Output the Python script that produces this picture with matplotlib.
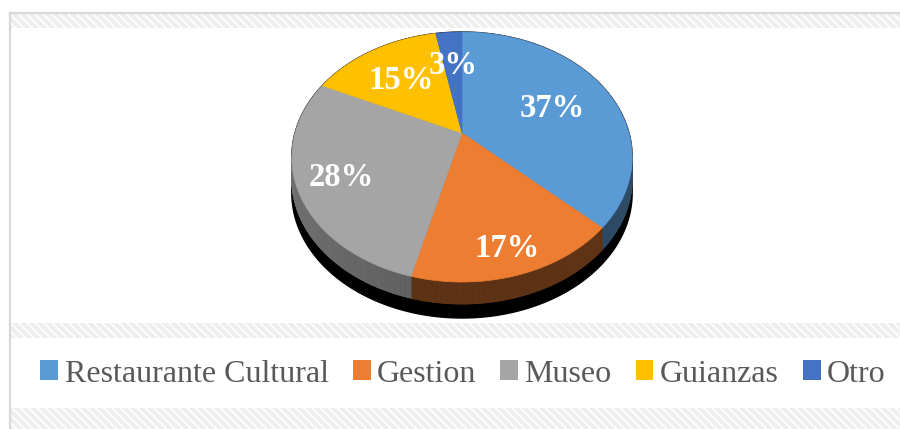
import numpy as np
import matplotlib
matplotlib.use("Agg")
import matplotlib.pyplot as plt
from matplotlib.patches import Polygon, Rectangle, Patch
from matplotlib.collections import PolyCollection

# datos del grafico
categorias = ["Restaurante Cultural", "Gestion", "Museo", "Guianzas", "Otro"]
valores = [37, 17, 28, 15, 3]
colores = ["#5b9bd5", "#ed7d31", "#a5a5a5", "#ffc000", "#4472c4"]
colores_lado = ["#2e4b66", "#5e3316", "#5c5c5c", "#7a5c00", "#213a63"]
radio_etiqueta = [0.62, 0.82, 0.75, 0.65, 0.67]

plt.rcParams["hatch.linewidth"] = 3

fig = plt.figure(figsize=(9, 4.29), dpi=100)
ax = fig.add_axes([0, 0, 1, 1])
ax.set_xlim(0, 900)
ax.set_ylim(429, 0)
ax.axis("off")

# fondo: bandas rayadas y marco
for y0, y1 in [(14, 28), (323, 338), (408, 429)]:
    ax.add_patch(Rectangle((11, y0), 889, y1 - y0, facecolor="white",
                           edgecolor="#eeeeee", hatch="\\\\\\\\", linewidth=0))
ax.plot([10, 900], [13, 13], color="#d9d9d9", lw=1.6)
ax.plot([10, 10], [13, 429], color="#d9d9d9", lw=1.6)

# geometria de la torta en perspectiva
cx, cy = 462, 133
sx, sy = 167, 120.4
k = 0.192
prof = 22
sombra = 14


def proj(u, v, dy=0):
    d = 1 - k * v
    return np.column_stack([cx + sx * u / d, cy + sy * v / d + dy])


def arco(t0, t1, n=200, dy=0):
    t = np.linspace(t0, t1, n)
    return proj(np.cos(t), -np.sin(t), dy)


fr = np.array(valores) / sum(valores)
bordes = np.radians(90 - 360 * np.concatenate([[0], np.cumsum(fr)]))

# sombra negra
arriba = arco(-np.arcsin(k), np.pi + np.arcsin(k), 300)
abajo = arco(np.pi + np.arcsin(k), 2 * np.pi - np.arcsin(k), 300, prof + sombra)
ax.add_patch(Polygon(np.vstack([arriba, abajo]), closed=True,
                     facecolor="black", edgecolor="black", lw=1))

# lados
polys, cols = [], []
for i in range(len(valores)):
    t = np.linspace(bordes[i], bordes[i + 1], 200)
    v = -np.sin(t)
    top = proj(np.cos(t), v)
    bot = proj(np.cos(t), v, prof)
    base = np.array(matplotlib.colors.to_rgb(colores_lado[i]))
    for j in range(len(t) - 1):
        if v[j] >= k and v[j + 1] >= k:
            polys.append([top[j], top[j + 1], bot[j + 1], bot[j]])
            xn = (top[j, 0] - (cx - sx)) / (2 * sx)
            f = 1.2 - 0.4 * xn if i == 2 else 1.0
            cols.append(np.clip(base * f, 0, 1))
ax.add_collection(PolyCollection(polys, facecolors=cols, edgecolors=cols, linewidths=0.6))

# caras superiores
for i in range(len(valores)):
    pts = np.vstack([[cx, cy], arco(bordes[i], bordes[i + 1])])
    ax.add_patch(Polygon(pts, closed=True, facecolor=colores[i],
                         edgecolor=colores[i], lw=0.5))

# etiquetas
for i in range(len(valores)):
    tm = (bordes[i] + bordes[i + 1]) / 2
    r = radio_etiqueta[i]
    p = proj(np.array([r * np.cos(tm)]), np.array([-r * np.sin(tm)]))[0]
    ax.text(p[0], p[1] + 4, f"{valores[i]}%", ha="center", va="center",
            color="white", fontsize=23.5, fontweight="bold", family="Liberation Serif")

# leyenda
handles = [Patch(facecolor=c, edgecolor="none") for c in colores]
ax.legend(handles, categorias, ncol=5, loc="center", bbox_to_anchor=(463, 374),
          bbox_transform=ax.transData, frameon=False,
          prop={"family": "Liberation Serif", "size": 23}, labelcolor="#595959",
          handlelength=0.56, handleheight=0.56, handletextpad=0.2,
          columnspacing=0.75, borderpad=0, borderaxespad=0)

fig.savefig("out.png", dpi=100)
